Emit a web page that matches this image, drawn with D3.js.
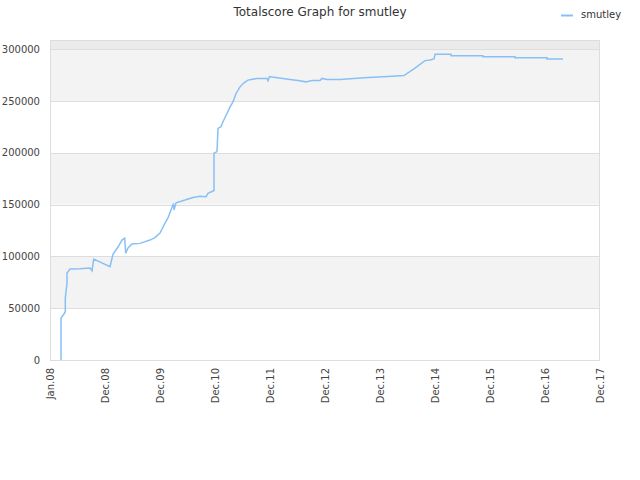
<!DOCTYPE html>
<html><head><meta charset="utf-8">
<script src="https://cdn.jsdelivr.net/npm/d3@7"></script>
<style>body{margin:0;background:#fff}svg{display:block}text{font-family:"DejaVu Sans",sans-serif}</style>
</head><body><svg id="c" width="640" height="480"></svg>
<script>
const title = "Totalscore Graph for smutley";
const seriesName = "smutley";
const tickLabels = ["Jan.08","Dec.08","Dec.09","Dec.10","Dec.11","Dec.12","Dec.13","Dec.14","Dec.15","Dec.16","Dec.17"];
const yTicks = [0,50000,100000,150000,200000,250000,300000];
// x position in label-interval units (0 = Jan.08, 10 = Dec.17)
const xIdx = [0.200,0.200,0.242,0.278,0.278,0.309,0.309,0.364,0.545,0.727,0.764,0.795,1.091,1.145,1.236,1.309,1.358,1.376,1.418,1.491,1.636,1.818,1.909,2.000,2.091,2.145,2.200,2.245,2.255,2.291,2.455,2.600,2.727,2.836,2.873,2.964,2.982,2.982,3.036,3.055,3.109,3.145,3.218,3.273,3.327,3.382,3.455,3.527,3.600,3.764,3.891,3.945,3.964,3.991,4.036,4.236,4.364,4.509,4.655,4.764,4.909,4.945,5.036,5.273,5.709,6.145,6.436,6.636,6.818,6.909,6.982,7.000,7.291,7.291,7.873,7.873,8.455,8.455,9.036,9.036,9.327];
const scores = [0,40500,43400,46600,59800,74000,84000,87700,88000,88700,86100,97400,90000,102000,109000,115700,117600,103000,108000,112000,112500,115700,118000,122500,132000,137000,144700,151000,144700,151700,154300,156800,158000,157500,160700,163000,163500,199400,201000,223400,225000,229800,237800,244200,249000,257100,263500,267400,270000,271600,271600,271600,269300,273400,273000,271600,270600,269600,268300,269600,269600,271600,270600,270600,272200,273400,274400,281500,288800,289400,290400,294900,294900,293600,293600,292600,292600,291600,291600,290300,290300];

const svg = d3.select("#c");
const L=50,R=600,T=40,B=360;
const x = d3.scaleLinear().domain([0,10]).range([L,R]);
const y = d3.scaleLinear().domain([0,300000]).range([B,49]);
const yTop = y.invert(T);

// bands
const bands = [];
for (let i=0;i<yTicks.length-1;i++) bands.push([yTicks[i],yTicks[i+1],i%2===1?"#f3f3f3":"#ffffff"]);
bands.push([300000,yTop,"#ebebeb"]);
svg.append("g").selectAll("rect").data(bands).join("rect")
  .attr("x",L).attr("width",R-L)
  .attr("y",d=>y(d[1])).attr("height",d=>y(d[0])-y(d[1]))
  .attr("fill",d=>d[2]);
// grid
svg.append("g").selectAll("line").data(yTicks).join("line")
  .attr("x1",L).attr("x2",R).attr("y1",d=>Math.round(y(d))+0.5).attr("y2",d=>Math.round(y(d))+0.5)
  .attr("stroke","#dddddd");
svg.append("rect").attr("x",L+0.5).attr("y",T+0.5).attr("width",R-L-1).attr("height",B-T)
  .attr("fill","none").attr("stroke","#dddddd");

// y axis
const ya = d3.axisLeft(y).tickValues(yTicks).tickSize(0).tickPadding(10).tickFormat(d3.format("d"));
svg.append("g").attr("transform",`translate(${L},0)`).call(ya)
  .call(g=>g.select(".domain").remove())
  .call(g=>g.selectAll("text").attr("fill","#444").style("font-size","10px").style("font-family","DejaVu Sans"));
// x axis
const xa = d3.axisBottom(x).tickValues(d3.range(tickLabels.length)).tickSize(0).tickFormat(i=>tickLabels[i]);
svg.append("g").attr("transform",`translate(0,${B})`).call(xa)
  .call(g=>g.select(".domain").remove())
  .call(g=>g.selectAll("text").attr("fill","#444").style("font-size","10px").style("font-family","DejaVu Sans")
     .attr("text-anchor","end").attr("transform","rotate(-90)").attr("x",-8).attr("y",0).attr("dy","0.35em"));

// line
const pts = xIdx.map((v,i)=>[v,scores[i]]);
svg.append("path").datum(pts).attr("fill","none").attr("stroke","#88c0f5").attr("stroke-width",1.5)
  .attr("d",d3.line().x(d=>x(d[0])).y(d=>y(d[1])));

// title
svg.append("text").attr("x",320).attr("y",16).attr("text-anchor","middle").attr("fill","#333")
  .style("font-size","12px").text(title);
// legend
svg.append("line").attr("x1",561).attr("x2",573).attr("y1",15.5).attr("y2",15.5).attr("stroke","#88c0f5").attr("stroke-width",2);
svg.append("text").attr("x",581).attr("y",18).attr("fill","#333").style("font-size","10px").text(seriesName);
</script></body></html>
